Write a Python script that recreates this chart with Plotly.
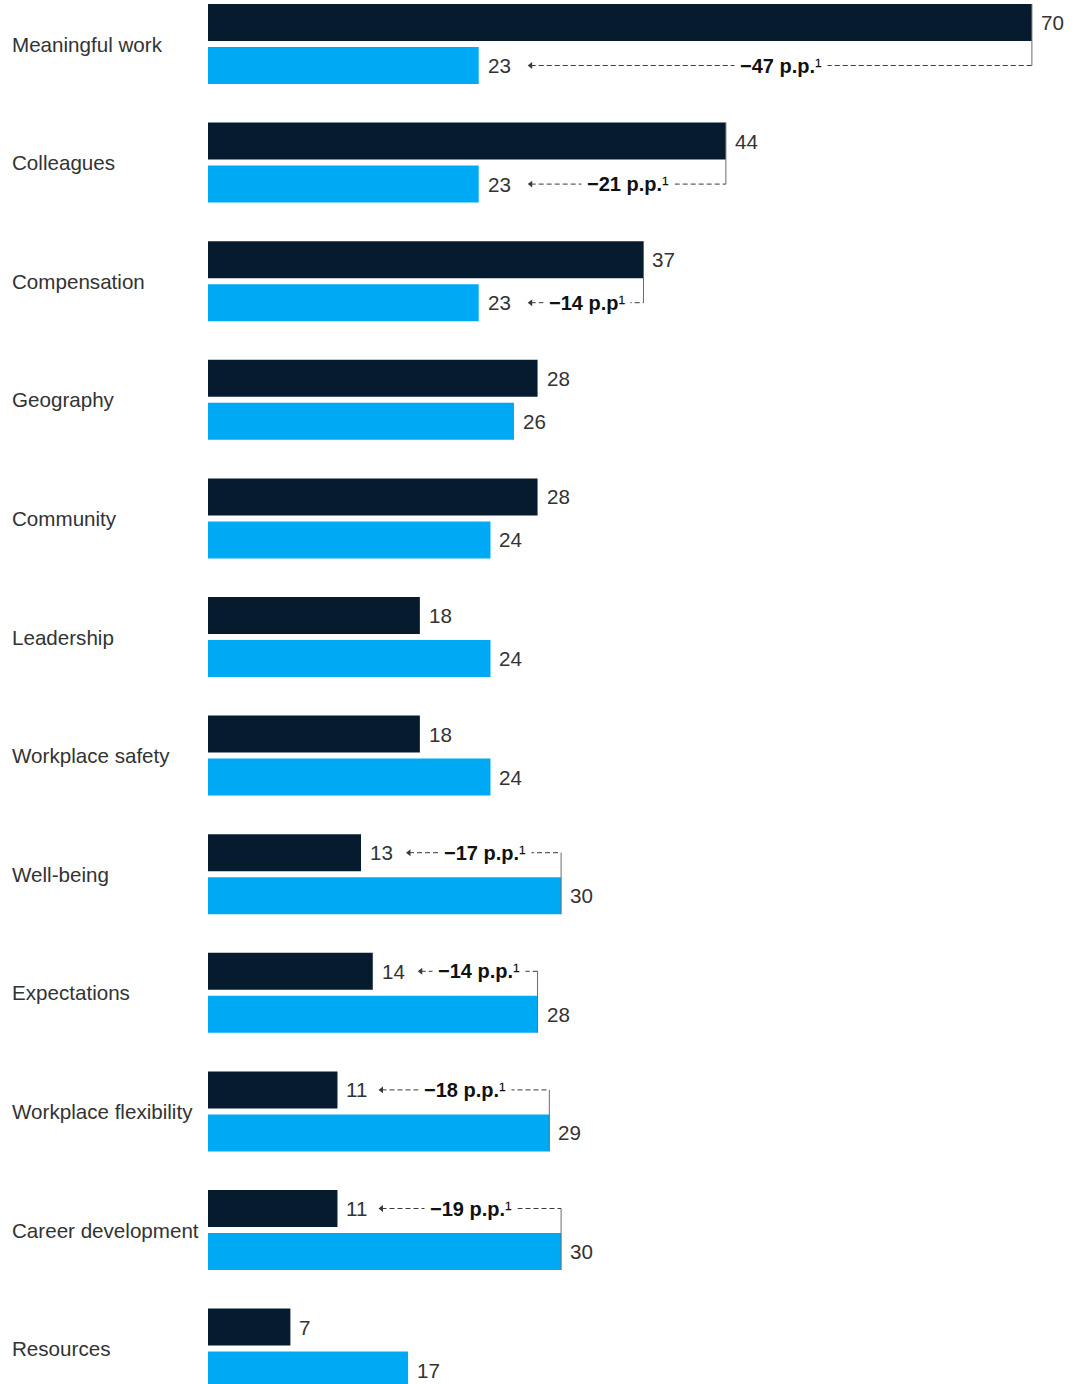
import plotly.graph_objects as go

categories = ["Meaningful work", "Colleagues", "Compensation", "Geography", "Community",
              "Leadership", "Workplace safety", "Well-being", "Expectations",
              "Workplace flexibility", "Career development", "Resources"]
dark_values = [70, 44, 37, 28, 28, 18, 18, 13, 14, 11, 11, 7]
blue_values = [23, 23, 23, 26, 24, 24, 24, 30, 28, 29, 30, 17]
# gap annotations: unit text shown for the annotated rows (None = no bracket)
gap_units = ["p.p.", "p.p.", "p.p", None, None, None, None, "p.p.", "p.p.", "p.p.", "p.p.", None]

DARK = "#061C2E"
BLUE = "#00A9F4"
TXT = "#333333"
LINE = "#3a3a3a"
FONT = "Liberation Sans, Arial, sans-serif"

W, H = 1080, 1384
ML = 208
PX_PER_UNIT = 11.77
X_MAX = (W - ML) / PX_PER_UNIT
PITCH = 118.6
ROW0 = 44.0
Y_TOP = -ROW0 / PITCH
Y_BOT = (H - ROW0) / PITCH
OFF = 21.5 / PITCH
BW = 37.0 / PITCH

n = len(categories)
yd = [i - OFF for i in range(n)]
yb = [i + OFF for i in range(n)]

fig = go.Figure()
fig.add_trace(go.Bar(orientation="h", y=yd, x=dark_values, width=BW, marker_color=DARK,
                     marker_line_width=0, hoverinfo="skip", showlegend=False))
fig.add_trace(go.Bar(orientation="h", y=yb, x=blue_values, width=BW, marker_color=BLUE,
                     marker_line_width=0, hoverinfo="skip", showlegend=False))

annotations = []
shapes = []
tips_x, tips_y = [], []

for i, cat in enumerate(categories):
    annotations.append(dict(xref="paper", yref="y", x=-(ML - 10) / (W - ML), y=i,
                            text=cat, showarrow=False, xanchor="left", yanchor="middle",
                            font=dict(family=FONT, size=20.6, color=TXT)))
    for v, yy in ((dark_values[i], yd[i]), (blue_values[i], yb[i])):
        annotations.append(dict(x=v, y=yy, text=str(v), showarrow=False, xanchor="left",
                                yanchor="middle", xshift=7,
                                font=dict(family=FONT, size=20.6, color=TXT)))
    unit = gap_units[i]
    if unit is None:
        continue
    d, b = dark_values[i], blue_values[i]
    if d > b:
        hi, lo, y_line, y_far = d, b, yb[i], yd[i] - BW / 2
    else:
        hi, lo, y_line, y_far = b, d, yd[i], yb[i] + BW / 2
    label = str(lo)
    lw = sum(7 if ch == "1" else 11 for ch in label)
    tip = lo + (8 + lw + 22) / PX_PER_UNIT
    shapes.append(dict(type="line", x0=hi, x1=hi, y0=y_line, y1=y_far, xref="x", yref="y",
                       line=dict(color="#6a6a6a", width=1)))
    shapes.append(dict(type="line", x0=tip, x1=hi, y0=y_line, y1=y_line, xref="x", yref="y",
                       line=dict(color=LINE, width=1, dash="5px,3px")))
    tips_x.append(tip)
    tips_y.append(y_line)
    annotations.append(dict(x=(tip + hi) / 2, y=y_line,
                            text=f"<b>\u2212{hi - lo} {unit}</b>\u00b9",
                            showarrow=False, xanchor="center", yanchor="middle",
                            bgcolor="white", borderpad=5,
                            font=dict(family=FONT, size=20, color="#111111")))

fig.add_trace(go.Scatter(x=tips_x, y=tips_y, mode="markers",
                         marker=dict(symbol="triangle-left", size=6, color=LINE),
                         hoverinfo="skip", showlegend=False))

fig.update_layout(
    width=W, height=H,
    margin=dict(l=ML, r=0, t=0, b=0),
    paper_bgcolor="white", plot_bgcolor="white",
    xaxis=dict(range=[0, X_MAX], visible=False, fixedrange=True),
    yaxis=dict(range=[Y_BOT, Y_TOP], visible=False, fixedrange=True),
    annotations=annotations, shapes=shapes,
    barmode="overlay",
    font=dict(family=FONT),
)

fig.write_html("out.html")
